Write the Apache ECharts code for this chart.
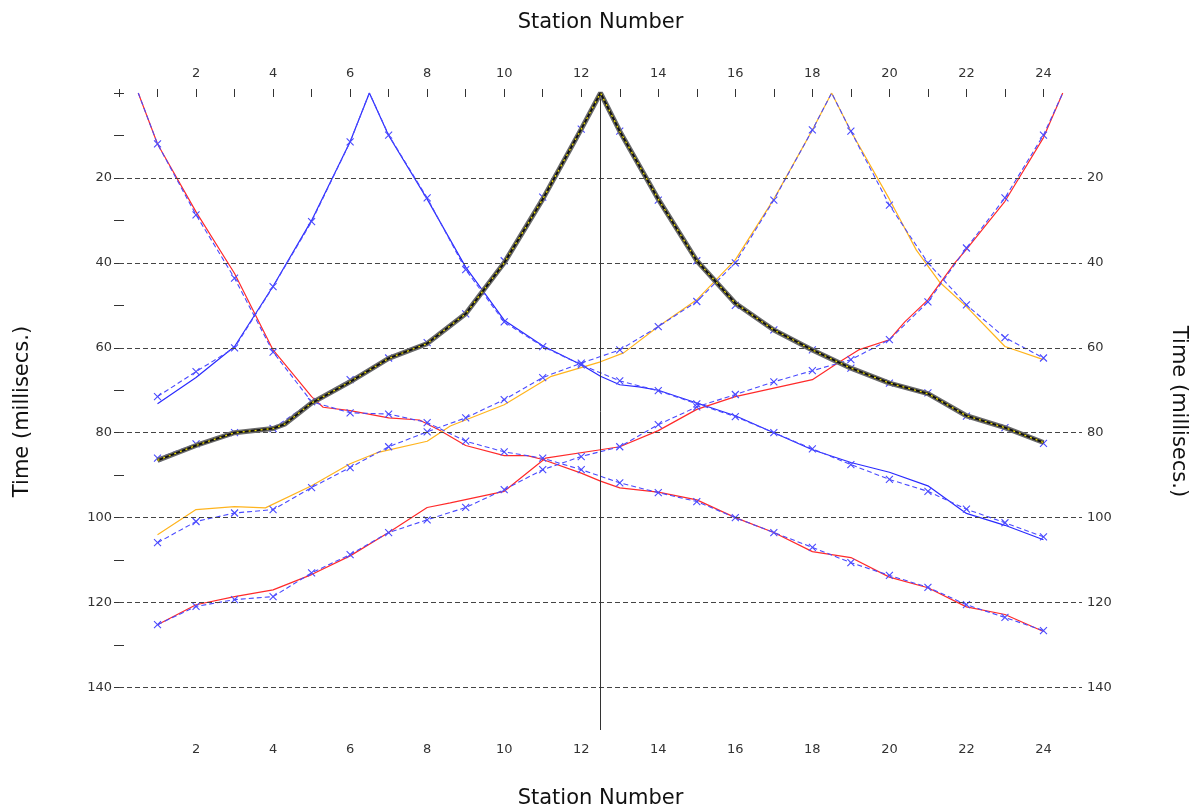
<!DOCTYPE html>
<html><head><meta charset="utf-8">
<script src="https://cdn.jsdelivr.net/npm/echarts@6/dist/echarts.min.js"></script>
<style>html,body{margin:0;padding:0;background:#fff}#c{width:1192px;height:812px}</style>
</head><body><div id="c"></div>
<script>
// Stations (receivers) and shot positions
const stations = [1,2,3,4,5,6,7,8,9,10,11,12,13,14,15,16,17,18,19,20,21,22,23,24];
const shots = [0.5, 6.5, 12.5, 18.5, 24.5];
const yGridTicks = [20,40,60,80,100,120,140];
const yTickValues = [0,10,20,30,40,50,60,70,80,90,100,110,120,130,140];
const xTickLabels = [2,4,6,8,10,12,14,16,18,20,22,24];
const xTickValues = [0,1,2,3,4,5,6,7,8,9,10,11,12,13,14,15,16,17,18,19,20,21,22,23,24];

// Observed travel times (ms) at stations 1..24
const obsA = [12,28.7,43.6,61,72.7,75.3,75.6,77.6,82,84.5,86,88.7,91.8,94.1,96.2,100,103.5,107,110.6,113.6,116.4,120.5,123.5,126.6];
const obsB = [71.5,65.6,60,45.6,30.3,11.5,9.9,24.7,41.6,53.9,59.7,64,67.8,70.1,73.2,76.2,80,83.8,87.5,91,93.8,98,101.2,104.5];
const obsC = [86,82.6,80,79,72.7,67.5,62.4,58.8,52,39.5,24.5,8.5,9,25.2,39.5,50,55.8,60.5,64.8,68.3,70.6,76.1,78.8,82.5];
const obsD = [105.9,100.9,98.9,98.1,92.9,88.2,83.3,79.8,76.5,72.2,67,63.6,60.5,55,49.1,40,25.2,8.7,9,26.4,40,49.9,57.6,62.4];
const obsE = [125.2,120.9,119.3,118.6,113,108.7,103.5,100.5,97.6,93.4,88.7,85.6,83.3,78.1,73.9,71,68,65.4,62.8,58.1,49.2,36.5,24.7,9.9];

// Computed travel-time curves
const calcAx = [0.5,1,2,3,4,5,5.3,6,7,7.8,8.3,9,10,10.6,11,12,12.5,13,14,15,16,17,18,19,20,21,22,23,24];
const calcAt = [0,12,28,42.5,60.5,71.5,74,74.8,76.5,77,79.3,83,85.4,85.4,86.3,89.5,91.4,93,94,95.8,100,103.5,108,109.4,114,116.5,121,122.8,126.8];
const calcBx = [1,2,3,4,5,6,6.5,7,8,9,10,11,12,12.5,13,13.5,14,15,16,17,18,19,20,21,22,23,24];
const calcBt = [73.2,67,59.7,45.5,30,11.5,0,10,25,41,53.5,59.5,64,66.7,68.7,69.2,70,73,76,80,84,87,89.3,92.5,99,101.8,105.2];
const calcCx = [1,2,3,4,4.3,5,6,7,8,9,10,11,12,12.5,13,14,15,16,17,18,19,20,21,22,23,24];
const calcCt = [86.5,83,80,79,78,73,68,62.5,59,52,40,25,8.5,0,9,25,39.5,49.5,55.8,60.5,64.8,68.3,70.8,76,78.8,82.3];
const calcDx = [1,2,3,3.8,5,6,6.7,8,8.6,10,11.2,12.5,13.1,14,15,16,17,18,18.5,19,20,20.7,21.3,22,23,24];
const calcDt = [104,98.1,97.4,97.7,92.5,87.3,84.7,82,78.4,73.4,66.8,63.3,61.2,55,48.7,39.3,25,8.7,0,9,25,37,44.5,50.3,59.7,62.8];
const calcEx = [1,2,3,4,5,6,7,8,8.6,10,11.07,12.5,13,14,15,16,17,18,18.67,19.2,20,20.4,21,21.7,22,23,24,24.5];
const calcEt = [125.2,120.5,118.6,117,113.4,109,103.5,97.6,96.5,93.8,86,84,83.3,79.5,74.5,71.5,69.5,67.5,63.5,60.5,58.1,53.9,48.7,40,36.8,25.5,10.5,0];

const FONT = 'DejaVu Sans';
const OBS = '#4a4aff';

function obsData(shot, arr){
  const pts = stations.map((s,i)=>[s, arr[i]]);
  pts.push({value:[shot,0], symbol:'none'});
  pts.sort((a,b)=>(Array.isArray(a)?a[0]:a.value[0])-(Array.isArray(b)?b[0]:b.value[0]));
  return pts;
}
function pairs(xs, ts){ return xs.map((x,i)=>[x, ts[i]]); }

function calcSeries(xs, ts, color, width, extra){
  return Object.assign({
    type:'line', data:pairs(xs,ts), showSymbol:false, symbol:'none',
    lineStyle:{color:color, width:width}, silent:true, animation:false, z:2
  }, extra||{});
}
function obsSeries(shot, arr){
  return {
    type:'line', data:obsData(shot,arr), symbol:'path://M0,0L10,10M10,0L0,10', symbolSize:7,
    itemStyle:{color:'none', borderColor:OBS, borderWidth:1.1},
    lineStyle:{color:OBS, width:1.1, type:[5,3]}, silent:true, animation:false, z:4
  };
}

const xAxisBase = {
  type:'value', min:0, max:25, interval:1,
  axisLine:{show:false},
  axisTick:{show:true, inside:true, length:4, customValues:xTickValues, lineStyle:{color:'#333', width:1}},
  axisLabel:{margin:13, color:'#333', fontFamily:FONT, fontSize:13, customValues:xTickLabels},
  splitLine:{show:false},
  name:'Station Number', nameLocation:'middle',
  nameTextStyle:{fontFamily:FONT, fontSize:21, color:'#111'}
};
const yAxisBase = {
  type:'value', min:0, max:150, interval:10, inverse:true,
  axisLine:{show:false},
  axisTick:{show:true, inside:true, length:5, customValues:yTickValues, lineStyle:{color:'#333', width:1}},
  axisLabel:{color:'#333', fontFamily:FONT, fontSize:13, customValues:yGridTicks},
  splitLine:{show:false},
  name:'Time (millisecs.)', nameLocation:'middle',
  nameTextStyle:{fontFamily:FONT, fontSize:21, color:'#111'}
};

const option = {
  backgroundColor:'#fff',
  animation:false,
  grid:{left:119, right:110, top:93, bottom:82, containLabel:false, outerBoundsMode:'none'},
  xAxis:[
    Object.assign({}, xAxisBase, {position:'bottom', nameGap:58}),
    Object.assign({}, xAxisBase, {position:'top', nameGap:60})
  ],
  yAxis:[
    Object.assign({}, yAxisBase, {position:'left', nameGap:86, axisLabel:Object.assign({}, yAxisBase.axisLabel, {margin:7})}),
    Object.assign({}, yAxisBase, {position:'right', nameGap:86, nameRotate:-90, axisLabel:Object.assign({}, yAxisBase.axisLabel, {margin:5})})
  ],
  series:[
    {
      type:'line', data:[], silent:true, animation:false, z:1,
      markLine:{silent:true, symbol:['none','none'], label:{show:false}, animation:false,
        lineStyle:{color:'#444', width:1, type:[5,3]},
        data: yGridTicks.map(v=>({yAxis:v})).concat([{xAxis:shots[2], lineStyle:{color:'#333', width:1, type:'solid'}}])
      }
    },
    calcSeries(calcAx, calcAt, '#ff2a2a', 1.2),
    calcSeries(calcBx, calcBt, '#2a2aff', 1.2),
    calcSeries(calcDx, calcDt, '#ffb41e', 1.2),
    calcSeries(calcEx, calcEt, '#ff2a2a', 1.2),
    obsSeries(shots[0], obsA),
    obsSeries(shots[1], obsB),
    obsSeries(shots[2], obsC),
    obsSeries(shots[3], obsD),
    obsSeries(shots[4], obsE),
    calcSeries(calcCx, calcCt, '#6a6a6a', 5, {z:5}),
    calcSeries(calcCx, calcCt, '#111', 2, {z:6}),
    calcSeries(calcCx, calcCt, '#f0e000', 1.3, {z:7, lineStyle:{color:'#f0e000', width:1.3, type:[2,4]}})
  ]
};
const chart = echarts.init(document.getElementById('c'), null, {renderer:'canvas'});
chart.setOption(option);
</script></body></html>
